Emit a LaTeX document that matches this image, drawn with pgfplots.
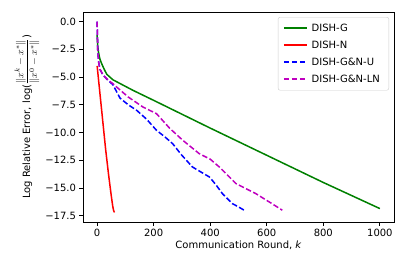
\documentclass[border=0pt]{standalone}
\usepackage{pgfplots}
\pgfplotsset{compat=1.18}
\usepackage{fontspec}
\setmainfont{DejaVu Sans}
\definecolor{mplgreen}{rgb}{0,0.5,0}
\definecolor{mplmag}{rgb}{0.75,0,0.75}
\begin{document}
\begin{tikzpicture}
\useasboundingbox (-83pt,-49pt) rectangle (324pt,222pt);
\begin{axis}[
  at={(0,0)}, anchor=south west,
  scale only axis, width=311pt, height=210pt,
  xmin=-50, xmax=1050, ymin=-18.06, ymax=0.86,
  axis line style={line width=0.8pt},
  tick style={black, line width=0.8pt},
  tick align=outside, major tick length=3.5pt,
  xtick pos=bottom, ytick pos=left,
  xtick={0,200,400,600,800,1000},
  xticklabels={0,200,400,600,800,1000},
  ytick={0,-2.5,-5,-7.5,-10,-12.5,-15,-17.5},
  yticklabels={0.0,−2.5,−5.0,−7.5,−10.0,−12.5,−15.0,−17.5},
  ticklabel style={font=\fontsize{10}{12}\selectfont},
  xlabel={Communication Round, \textit{k}},
  ylabel={Log Relative Error, log($\displaystyle\frac{\|x^k-x^*\|}{\|x^0-x^*\|}$)},
  label style={font=\fontsize{10}{12}\selectfont},
  xlabel style={yshift=3pt},
  ylabel style={yshift=-1pt},
  legend style={at={(1,1)}, anchor=north east, xshift=-5pt, yshift=-5pt,
    draw=black!20, rounded corners=2pt, fill=white, fill opacity=0.8, text opacity=1,
    font=\fontsize{10}{12}\selectfont, row sep=3pt, inner xsep=5pt, inner ysep=4pt,
    nodes={inner xsep=4pt, inner ysep=2pt, text height=8pt, text depth=2pt}},
  legend cell align=left,
  legend image code/.code={\draw[mark repeat=2,mark phase=2,#1] plot coordinates {(0pt,0pt)(11.5pt,0pt)(23pt,0pt)};},
]
\addplot[mplgreen, line width=1.5pt] coordinates {
(0,-1.2)(2,-2.2)(5,-2.8)(10,-3.4)(17,-3.85)(25,-4.3)(34,-4.75)(56,-5.25)(127,-6.2)(200,-7.1)(400,-9.6)(600,-12.05)(800,-14.5)(1000,-16.85)};
\addlegendentry{DISH-G}
\addplot[red, line width=1.5pt] coordinates {
(0,-4.0)(10,-6.5)(20,-9.0)(30,-11.5)(40,-13.7)(50,-15.7)(55,-16.6)(58,-17.0)(61,-17.2)};
\addlegendentry{DISH-N}
\addplot[blue, line width=1.5pt, dash pattern=on 5.55pt off 2.4pt] coordinates {
(0,0)(2,-2.5)(5,-3.6)(10,-4.3)(20,-4.8)(35,-5.2)(56,-5.7)(81,-6.9)(110,-7.5)(140,-8.0)(175,-8.8)(210,-9.8)(240,-10.4)(267,-11.0)(298,-12.0)(337,-13.1)(370,-13.6)(397,-14.0)(420,-14.7)(443,-15.5)(478,-16.4)(500,-16.7)(520,-17.0)};
\addlegendentry{DISH-G\&N-U}
\addplot[mplmag, line width=1.5pt, dash pattern=on 5.55pt off 2.4pt] coordinates {
(0,0)(2,-2.5)(5,-3.6)(10,-4.3)(22,-4.85)(40,-5.3)(56,-5.6)(69,-5.9)(110,-6.8)(162,-7.7)(210,-8.3)(256,-9.6)(303,-10.7)(361,-11.9)(400,-12.4)(432,-13.1)(491,-14.6)(561,-15.5)(618,-16.4)(655,-17.0)};
\addlegendentry{DISH-G\&N-LN}
\end{axis}
\end{tikzpicture}
\end{document}
